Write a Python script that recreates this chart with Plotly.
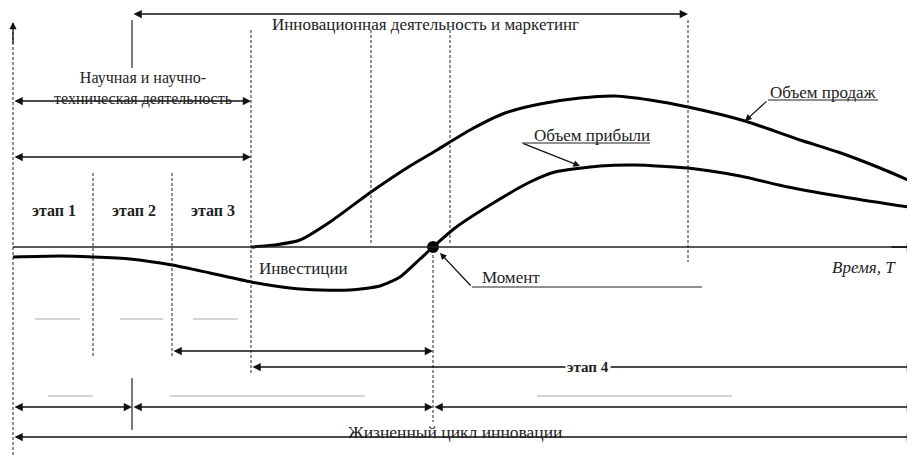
import plotly.graph_objects as go

# ---- data (time in chart units, value: 0 = time axis, positive up) ----
sales_time = [251, 275, 300, 330, 371, 410, 437, 470, 505, 540, 580, 615, 650, 688, 745, 800, 838, 880, 915]
sales_volume = [0, 2, 7, 25, 55, 81, 97, 117, 134, 143, 149, 151, 147, 140, 126, 107, 95, 79, 64]

profit_time = [13, 60, 93, 130, 172, 210, 251, 290, 320, 350, 380, 400, 420, 433, 455, 490, 530, 555, 600, 635, 688, 740, 788, 850, 915]
profit_volume = [-10, -9, -10, -12, -18, -26, -35, -41, -43, -43, -39, -30, -12, 0, 19, 42, 65, 75, 81, 82, 79, 71, 60, 49, 39]

stage_labels = ["этап 1", "этап 2", "этап 3"]
stage_bounds = [13, 93, 172, 251]
break_even_time = 433
upper_bounds = [251, 371, 450, 688]

PAGE_PAD = 8          # browser default body margin
X0, X1 = PAGE_PAD, 915
BASE = 247            # row of the time axis


def v(py):
    return BASE - py


fig = go.Figure()

fig.add_trace(go.Scatter(x=sales_time, y=sales_volume, mode="lines",
                         line=dict(color="black", width=3, shape="spline", smoothing=0.6),
                         hoverinfo="skip", showlegend=False))
fig.add_trace(go.Scatter(x=profit_time, y=profit_volume, mode="lines",
                         line=dict(color="black", width=3, shape="spline", smoothing=0.6),
                         hoverinfo="skip", showlegend=False))
fig.add_trace(go.Scatter(x=[break_even_time], y=[0], mode="markers",
                         marker=dict(color="black", size=12),
                         hoverinfo="skip", showlegend=False))

shapes = []
DASH = "3px,2px"


def vline(x, py0, py1, dash=DASH, w=1, color="#222"):
    shapes.append(dict(type="line", xref="x", yref="y", x0=x, x1=x, y0=v(py0), y1=v(py1),
                       line=dict(color=color, width=w, dash=dash)))


def hline(y_px, x0, x1, w=1.3, color="#222", dash="solid"):
    shapes.append(dict(type="line", xref="x", yref="y", x0=x0, x1=x1, y0=v(y_px), y1=v(y_px),
                       line=dict(color=color, width=w, dash=dash)))


# left vertical axis (dashed) and time axis
vline(13, 455, 30)
hline(BASE, 13, 912, w=1.5)

# stage boundaries
vline(stage_bounds[1], 173, 358)
vline(stage_bounds[2], 173, 358)
vline(upper_bounds[0], 30, 375)
vline(upper_bounds[1], 30, 245)
vline(upper_bounds[2], 30, 245)
vline(upper_bounds[3], 20, 262)
vline(break_even_time, 250, 422)

# solid vertical at x=132
vline(132, 20, 68, dash="solid", w=1.2)
vline(132, 378, 430, dash="solid", w=1.2)

# grey placeholder lines
for (a, b) in [(35, 80), (120, 163), (193, 238)]:
    hline(319, a, b, w=1, color="#aaaaaa")
for (a, b) in [(48, 93), (170, 365), (537, 732)]:
    hline(396, a, b, w=1, color="#aaaaaa")

# leader lines
hline(287, 472, 702, w=1.2)
hline(100, 768, 878, w=1.2)
hline(143, 522, 650, w=1.2)

annotations = []


def arrow(x_from, py_from, x_to, py_to, both=False, w=1.5):
    annotations.append(dict(x=x_to, y=v(py_to), ax=x_from, ay=v(py_from),
                            xref="x", yref="y", axref="x", ayref="y", text="",
                            showarrow=True, arrowhead=2, arrowsize=1.1, arrowwidth=w,
                            arrowcolor="#111", arrowside="end+start" if both else "end"))


# axis arrowheads
arrow(13, 45, 13, 22, w=1.3)
arrow(890, BASE, 915, BASE, w=1.5)

# span arrows
arrow(132, 14, 688, 14, both=True)
arrow(13, 101, 251, 101, both=True)
arrow(13, 157, 251, 157, both=True)
arrow(172, 351, 433, 351, both=True)
arrow(251, 367, 915, 367, both=True)
arrow(13, 407, 132, 407, both=True)
arrow(132, 407, 433, 407, both=True)
arrow(433, 407, 915, 407, both=True)
arrow(13, 437, 915, 437, both=True)

# leader arrows
arrow(472, 287, 440, 253, w=1.2)
arrow(768, 100, 745, 121, w=1.2)
arrow(522, 143, 580, 166, w=1.2)

FONT = "Liberation Serif"


def text(x, py, s, size=14, anchor="center", bold=False, italic=False, bg=None):
    if bold:
        s = "<b>" + s + "</b>"
    if italic:
        s = "<i>" + s + "</i>"
    d = dict(x=x, y=v(py), xref="x", yref="y", text=s, showarrow=False,
             xanchor=anchor, yanchor="middle",
             font=dict(family=FONT, size=size, color="#222"))
    if bg:
        d["bgcolor"] = bg
    annotations.append(d)


text(425, 24, "Инновационная деятельность и маркетинг", size=17)
text(143, 88, "Научная и научно-<br>техническая деятельность", size=16)
for i, lab in enumerate(stage_labels):
    text((stage_bounds[i] + stage_bounds[i + 1]) / 2 + 1, 210, lab, size=16, bold=True)
text(257, 268, "Инвестиции", size=17, anchor="left")
text(480, 277, "Момент", size=17, anchor="left")
text(830, 267, "Время, Т", size=17, anchor="left", italic=True)
text(768, 92, "Объем продаж", size=17, anchor="left")
text(532, 135, "Объем прибыли", size=17, anchor="left")
text(588, 367, "этап 4", size=15, bold=True, bg="white")
text(455, 432, "Жизненный цикл инновации", size=17.5)

fig.update_layout(
    width=915 - PAGE_PAD, height=455 - PAGE_PAD,
    margin=dict(l=0, r=0, t=0, b=0),
    paper_bgcolor="white", plot_bgcolor="white",
    xaxis=dict(range=[X0, X1], visible=False, fixedrange=True),
    yaxis=dict(range=[v(455), v(PAGE_PAD)], visible=False, fixedrange=True),
    shapes=shapes, annotations=annotations, showlegend=False,
)

fig.write_html("out.html")
